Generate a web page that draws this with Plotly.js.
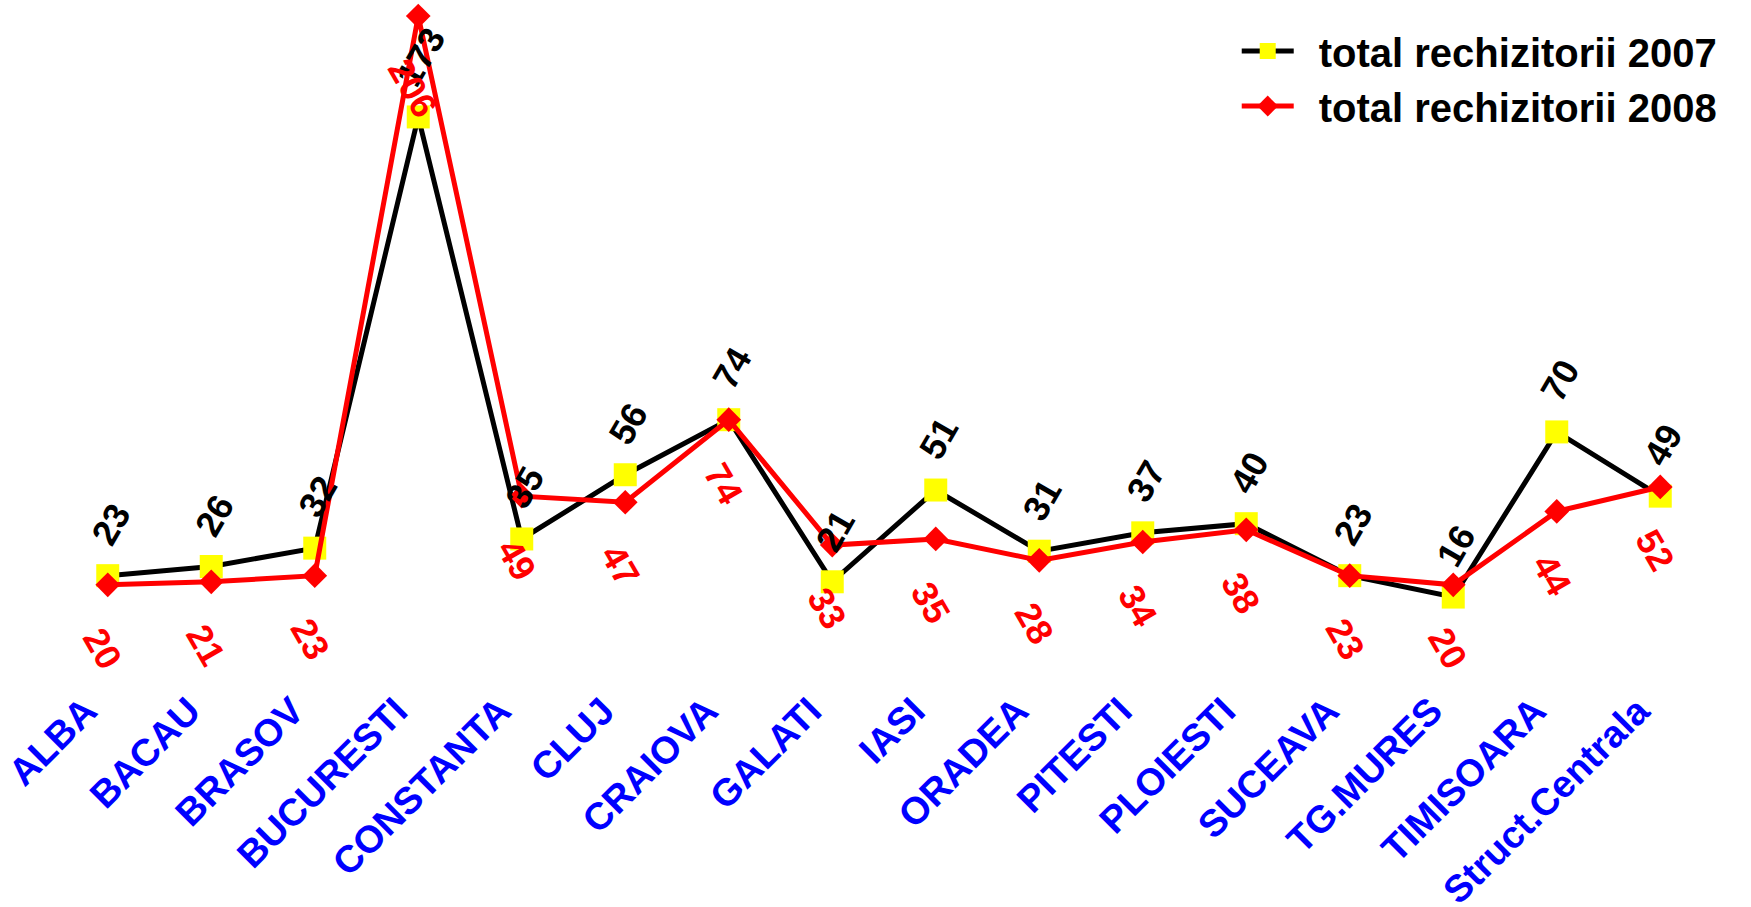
<!DOCTYPE html>
<html><head><meta charset="utf-8">
<script src="https://cdn.plot.ly/plotly-3.0.1.min.js"></script>
<style>html,body{margin:0;padding:0;background:#fff}#chart{width:1751px;height:907px}</style>
</head><body><div id="chart"></div>
<script>
const categories = ['ALBA','BACAU','BRASOV','BUCURESTI','CONSTANTA','CLUJ','CRAIOVA','GALATI','IASI','ORADEA','PITESTI','PLOIESTI','SUCEAVA','TG.MURES','TIMISOARA','Struct.Centrala'];
const rechizitorii2007 = [23,26,32,173,35,56,74,21,51,31,37,40,23,16,70,49];
const rechizitorii2008 = [20,21,23,206,49,47,74,33,35,28,34,38,23,20,44,52];
const seriesNames = ['total rechizitorii 2007','total rechizitorii 2008'];

const FONT = 'Liberation Sans, Arial, Helvetica, sans-serif';
const LBL = 36;
const LEGEND_PAD = '\u2002';

const traces = [
  {type:'scatter', mode:'lines+markers', x:categories, y:rechizitorii2007, name:LEGEND_PAD + seriesNames[0], legendgroup:'a',
   line:{color:'#000000', width:5}, marker:{symbol:'square', size:23, color:'#ffff00', line:{width:0}}, cliponaxis:false},
  {type:'scatter', mode:'lines+markers', x:categories, y:rechizitorii2008, name:LEGEND_PAD + seriesNames[1], legendgroup:'b',
   line:{color:'#ff0000', width:5}, marker:{symbol:'diamond', size:19, color:'#ff0000', line:{width:0}}, cliponaxis:false}
];

function halfLen(s){ return s.length*0.556*LBL/2; }
const annotations = [];
categories.forEach((c,i)=>{
  const s = String(rechizitorii2007[i]);
  annotations.push({x:c, y:rechizitorii2007[i], xref:'x', yref:'y', text:s, showarrow:false, textangle:-60,
    font:{family:FONT, size:LBL, color:'#000000', weight:'bold'}, xanchor:'center', yanchor:'middle',
    xshift:3, yshift:34 + halfLen(s)*Math.sin(Math.PI/3)});
});
categories.forEach((c,i)=>{
  const s = String(rechizitorii2008[i]);
  annotations.push({x:c, y:rechizitorii2008[i], xref:'x', yref:'y', text:s, showarrow:false, textangle:60,
    font:{family:FONT, size:LBL, color:'#ff0000', weight:'bold'}, xanchor:'center', yanchor:'middle',
    xshift:-5, yshift:-(46 + halfLen(s)*Math.sin(60*Math.PI/180))});
});

const layout = {
  width:1751, height:907,
  margin:{l:56, r:39, t:16, b:261},
  paper_bgcolor:'#ffffff', plot_bgcolor:'#ffffff',
  showlegend:true,
  legend:{x:0.713, y:0.996, xanchor:'left', yanchor:'top', bgcolor:'rgba(0,0,0,0)',
    font:{family:FONT, size:40, color:'#000000', weight:'bold'}, itemwidth:52, traceorder:'normal', tracegroupgap:4},
  xaxis:{type:'category', range:[-0.5,15.5], autorange:false, showgrid:false, zeroline:false, showline:false,
    ticks:'', tickangle:-45, ticklabelstandoff:34, ticklabelshift:-22,
    tickfont:{family:FONT, size:38, color:'#0000ff', weight:'bold'}},
  yaxis:{range:[0,206], autorange:false, visible:false, showgrid:false, zeroline:false},
  annotations:annotations
};

Plotly.newPlot('chart', traces, layout, {displayModeBar:false, staticPlot:true});
</script>
</body></html>
